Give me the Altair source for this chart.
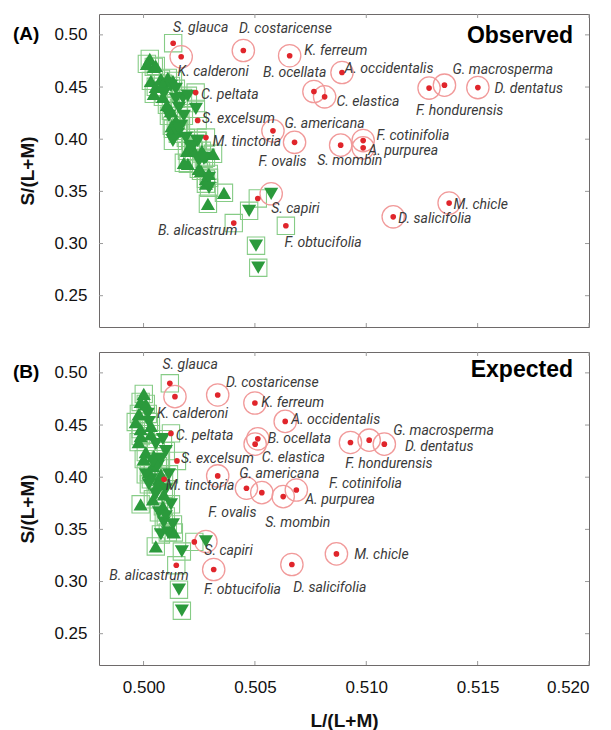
import altair as alt
import pandas as pd

# ---------------- axes ----------------
X_DOMAIN = [0.498, 0.520]
Y_DOMAIN = [0.22, 0.52]
X_TICKS = [0.500, 0.505, 0.510, 0.515, 0.520]
Y_TICKS = [0.25, 0.30, 0.35, 0.40, 0.45, 0.50]

# ---------------- panel A (Observed) ----------------
a_names = ["S. glauca", "K. calderoni", "D. costaricense", "K. ferreum", "C. peltata",
           "S. excelsum", "M. tinctoria", "G. americana", "F. ovalis", "S. capiri",
           "B. alicastrum", "F. obtucifolia", "B. ocellata", "C. elastica", "A. occidentalis",
           "F. hondurensis", "G. macrosperma", "D. dentatus", "S. mombin", "F. cotinifolia",
           "A. purpurea", "M. chicle", "D. salicifolia"]
a_x = [0.50133, 0.50169, 0.50448, 0.50656, 0.50234,
       0.50243, 0.50280, 0.50581, 0.50678, 0.50513,
       0.50405, 0.50639, 0.50765, 0.50813, 0.50891,
       0.51282, 0.51351, 0.51501, 0.50885, 0.50986,
       0.50986, 0.51372, 0.51121]
a_y = [0.4920, 0.4790, 0.4850, 0.4800, 0.4447,
       0.4180, 0.4016, 0.4080, 0.3970, 0.3432,
       0.3196, 0.3170, 0.4457, 0.4406, 0.4639,
       0.4490, 0.4518, 0.4495, 0.3943, 0.3987,
       0.3917, 0.3388, 0.3256]
a_ring = ["square", "circle", "circle", "circle", "square",
          "square", "square", "circle", "circle", "square",
          "square", "square", "circle", "circle", "circle",
          "circle", "circle", "circle", "circle", "circle",
          "circle", "circle", "circle"]
a_lab_x = [0.50132, 0.50153, 0.50429, 0.50722, 0.50258,
           0.50262, 0.50310, 0.50633, 0.50516, 0.50573,
           0.50065, 0.50633, 0.50536, 0.50866, 0.50902,
           0.51223, 0.51387, 0.51576, 0.50780, 0.51046,
           0.51009, 0.51392, 0.51144]
a_lab_y = [0.5067, 0.4646, 0.5057, 0.4847, 0.4422,
           0.4192, 0.3975, 0.4145, 0.3786, 0.3330,
           0.3116, 0.3001, 0.4636, 0.4358, 0.4671,
           0.4272, 0.4665, 0.4480, 0.3793, 0.4026,
           0.3889, 0.3369, 0.3234]

a_up_x = [0.50028, 0.50015, 0.50046, 0.50033, 0.50055, 0.50078, 0.50109, 0.50046,
          0.50087, 0.50123, 0.50105, 0.50145, 0.50132, 0.50195, 0.50213, 0.50199,
          0.50262, 0.50312, 0.50258, 0.50280, 0.50361, 0.50289,
          0.50055, 0.50087, 0.50132, 0.50127, 0.50154, 0.50226, 0.50181, 0.50248,
          0.50293, 0.50280]
a_up_y = [0.4770, 0.4722, 0.4693, 0.4559, 0.4502, 0.4578, 0.4588, 0.4435,
          0.4406, 0.4272, 0.4329, 0.4176, 0.4100, 0.3889, 0.3927, 0.3764,
          0.3889, 0.3860, 0.3697, 0.3620, 0.3486, 0.3381,
          0.4703, 0.4531, 0.4559, 0.4128, 0.4080, 0.3889, 0.3774, 0.3716,
          0.3668, 0.3573]
a_dn_x = [0.50091, 0.50123, 0.50177, 0.50145, 0.50235, 0.50114, 0.50154, 0.50168,
          0.50132, 0.50222, 0.50280, 0.50249, 0.50294, 0.50294, 0.50240, 0.50474,
          0.50505, 0.50515,
          0.50145, 0.50199, 0.50159, 0.50181, 0.50159, 0.50190, 0.50244, 0.50212,
          0.50271]
a_dn_y = [0.4435, 0.4511, 0.4396, 0.4387, 0.4291, 0.4224, 0.4052, 0.4128,
          0.3985, 0.3937, 0.3822, 0.3793, 0.3630, 0.3534, 0.3985, 0.3314,
          0.2979, 0.2768,
          0.4483, 0.4416, 0.4301, 0.4224, 0.4100, 0.4013, 0.3985, 0.3918,
          0.3812]
a_ringed_dn_x = [0.50573]
a_ringed_dn_y = [0.3477]

# ---------------- panel B (Expected) ----------------
b_names = ["S. glauca", "K. calderoni", "D. costaricense", "K. ferreum", "A. occidentalis",
           "C. peltata", "B. ocellata", "C. elastica", "S. excelsum", "M. tinctoria",
           "F. ovalis", "G. americana", "S. mombin", "A. purpurea", "F. cotinifolia",
           "S. capiri", "B. alicastrum", "F. obtucifolia", "D. salicifolia", "M. chicle",
           "F. hondurensis", "G. macrosperma", "D. dentatus"]
b_x = [0.50118, 0.50141, 0.50333, 0.50500, 0.50636,
       0.50123, 0.50513, 0.50501, 0.50150, 0.50092,
       0.50333, 0.50462, 0.50531, 0.50627, 0.50686,
       0.50228, 0.50147, 0.50315, 0.50666, 0.50866,
       0.50929, 0.51013, 0.51081]
b_y = [0.4900, 0.4772, 0.4788, 0.4711, 0.4535,
       0.4420, 0.4368, 0.4317, 0.4156, 0.3980,
       0.4012, 0.3894, 0.3852, 0.3814, 0.3877,
       0.3380, 0.3156, 0.3115, 0.3163, 0.3265,
       0.4333, 0.4355, 0.4317]
b_ring = ["square", "circle", "circle", "circle", "circle",
          "square", "circle", "circle", "square", "square",
          "circle", "circle", "circle", "circle", "circle",
          "square", "square", "circle", "circle", "circle",
          "circle", "circle", "circle"]
b_lab_x = [0.50085, 0.50060, 0.50370, 0.50528, 0.50663,
           0.50145, 0.50558, 0.50531, 0.50168, 0.50100,
           0.50291, 0.50430, 0.50546, 0.50726, 0.50833,
           0.50273, 0.49846, 0.50271, 0.50672, 0.50946,
           0.50906, 0.51121, 0.51174]
b_lab_y = [0.5080, 0.4606, 0.4904, 0.4709, 0.4548,
           0.4397, 0.4365, 0.4185, 0.4173, 0.3916,
           0.3660, 0.4035, 0.3557, 0.3781, 0.3939,
           0.3291, 0.3050, 0.2918, 0.2938, 0.3259,
           0.4125, 0.4440, 0.4290]

b_up_x = [0.50001, 0.49987, 0.50010, 0.49965, 0.49987, 0.50033, 0.49978, 0.49987,
          0.50010, 0.50046, 0.50024, 0.50069, 0.50078, 0.49987, 0.50042, 0.50087,
          0.50136, 0.50055,
          0.49979, 0.50033, 0.50001, 0.50042, 0.50064, 0.50091]
b_up_y = [0.4798, 0.4721, 0.4702, 0.4529, 0.4461, 0.4493, 0.4336, 0.4394,
          0.4240, 0.4202, 0.4048, 0.3980, 0.4028, 0.3740, 0.3788, 0.3721,
          0.3470, 0.3336,
          0.4606, 0.4413, 0.4173, 0.4105, 0.3932, 0.3836]
b_dn_x = [0.50087, 0.50100, 0.50064, 0.50033, 0.50100, 0.50069, 0.50091, 0.50109,
          0.50172, 0.50159, 0.50172, 0.50019, 0.50042, 0.50024,
          0.50024, 0.50055, 0.50078, 0.50010, 0.50114, 0.50055, 0.50123, 0.50100,
          0.50132, 0.50078]
b_dn_y = [0.4365, 0.4250, 0.4105, 0.3980, 0.3884, 0.3663, 0.3567, 0.3470,
          0.3288, 0.2922, 0.2720, 0.4606, 0.4144, 0.3932,
          0.4529, 0.4317, 0.4173, 0.4028, 0.4028, 0.3836, 0.3740, 0.3624,
          0.3547, 0.3451]
b_ringed_dn_x = [0.50280]
b_ringed_dn_y = [0.3384]

# ---------------- styling ----------------
W, H = 490, 313
GREEN = "#2b9a3c"
SQUARE_GREEN = "#86cc86"
RING_RED = "#f19a9a"
DOT_RED = "#e0252b"
LABEL_FONT = "Roboto"
AXIS_FONT = "Liberation Sans"


def panel(names, xs, ys, rings, lab_x, lab_y, up_x, up_y, dn_x, dn_y,
          rdn_x, rdn_y, tag, word, word_y, show_x):
    xs_ = alt.Scale(domain=X_DOMAIN, nice=False, zero=False)
    ys_ = alt.Scale(domain=Y_DOMAIN, nice=False, zero=False)
    if show_x:
        x_axis = alt.Axis(values=X_TICKS, format=".3f", title="L/(L+M)",
                          labelPadding=14, titlePadding=16)
    else:
        x_axis = None
    y_axis = alt.Axis(values=Y_TICKS, format=".2f", title="S/(L+M)",
                      labelPadding=12, titlePadding=16)

    def X(f):
        return alt.X(f"{f}:Q", scale=xs_, axis=x_axis)

    def Y(f):
        return alt.Y(f"{f}:Q", scale=ys_, axis=y_axis)

    sp = pd.DataFrame({"name": names, "x": xs, "y": ys, "ring": rings,
                       "lx": lab_x, "ly": lab_y})
    up = pd.DataFrame({"x": up_x, "y": up_y})
    dn = pd.DataFrame({"x": dn_x, "y": dn_y})
    rdn = pd.DataFrame({"x": rdn_x, "y": rdn_y})

    sq_df = pd.concat([up, dn, sp[sp.ring == "square"][["x", "y"]]], ignore_index=True)
    ring_df = pd.concat([sp[sp.ring == "circle"][["x", "y"]], rdn], ignore_index=True)
    dn_all = pd.concat([dn, rdn], ignore_index=True)

    squares = alt.Chart(sq_df).mark_point(
        shape="square", filled=False, stroke=SQUARE_GREEN, strokeWidth=1.1, size=300, opacity=1
    ).encode(x=X("x"), y=Y("y"))
    circles = alt.Chart(ring_df).mark_point(
        shape="circle", filled=False, stroke=RING_RED, strokeWidth=1.3, size=500, opacity=1
    ).encode(x=X("x"), y=Y("y"))
    tri_up = alt.Chart(up).mark_point(
        shape="triangle-up", filled=True, color=GREEN, size=200, opacity=1
    ).encode(x=X("x"), y=Y("y"))
    tri_dn = alt.Chart(dn_all).mark_point(
        shape="triangle-down", filled=True, color=GREEN, size=200, opacity=1
    ).encode(x=X("x"), y=Y("y"))
    dots = alt.Chart(sp).mark_circle(size=32, color=DOT_RED, opacity=1).encode(
        x=X("x"), y=Y("y"))
    labels = alt.Chart(sp).mark_text(
        align="left", baseline="middle", font=LABEL_FONT, fontStyle="italic",
        fontSize=14, color="#3a3a3a"
    ).encode(x=X("lx"), y=Y("ly"), text="name:N")

    xt = pd.DataFrame({"x": X_TICKS})
    yt = pd.DataFrame({"y": Y_TICKS})
    tick_top = alt.Chart(xt).mark_rule(color="#9a9a9a").encode(
        x=X("x"), y=alt.value(0), y2=alt.value(4))
    tick_bot = alt.Chart(xt).mark_rule(color="#9a9a9a").encode(
        x=X("x"), y=alt.value(H), y2=alt.value(H - 4))
    tick_left = alt.Chart(yt).mark_rule(color="#9a9a9a").encode(
        y=Y("y"), x=alt.value(0), x2=alt.value(4))
    tick_right = alt.Chart(yt).mark_rule(color="#9a9a9a").encode(
        y=Y("y"), x=alt.value(W), x2=alt.value(W - 4))

    word_txt = alt.Chart(pd.DataFrame({"t": [word]})).mark_text(
        align="right", baseline="middle", font=AXIS_FONT, fontWeight="bold",
        fontSize=23, color="#000"
    ).encode(x=alt.value(W - 16), y=alt.value(word_y), text="t:N")
    tag_txt = alt.Chart(pd.DataFrame({"t": [tag]})).mark_text(
        align="left", baseline="middle", font=AXIS_FONT, fontWeight="bold",
        fontSize=19, color="#000"
    ).encode(x=alt.value(-86), y=alt.value(20), text="t:N")

    return alt.layer(
        squares, circles, tri_up, tri_dn, dots, labels,
        tick_top, tick_bot, tick_left, tick_right, word_txt, tag_txt
    ).properties(width=W, height=H)


pa = panel(a_names, a_x, a_y, a_ring, a_lab_x, a_lab_y, a_up_x, a_up_y, a_dn_x, a_dn_y,
           a_ringed_dn_x, a_ringed_dn_y, "(A)", "Observed", 22, False)
pb = panel(b_names, b_x, b_y, b_ring, b_lab_x, b_lab_y, b_up_x, b_up_y, b_dn_x, b_dn_y,
           b_ringed_dn_x, b_ringed_dn_y, "(B)", "Expected", 18, True)

chart = alt.vconcat(pa, pb, spacing=23).properties(
    padding={"left": 4, "top": 5, "right": 5, "bottom": 5}
).configure_view(
    stroke="#6e6a6a", strokeWidth=1
).configure_axis(
    domain=False, ticks=False, tickSize=0, grid=False,
    labelFont=AXIS_FONT, labelFontSize=17, labelColor="#111",
    titleFont=AXIS_FONT, titleFontSize=19, titleFontWeight="bold", titleColor="#111"
)

chart.save("out.html", embed_options={"renderer": "svg", "actions": False})
